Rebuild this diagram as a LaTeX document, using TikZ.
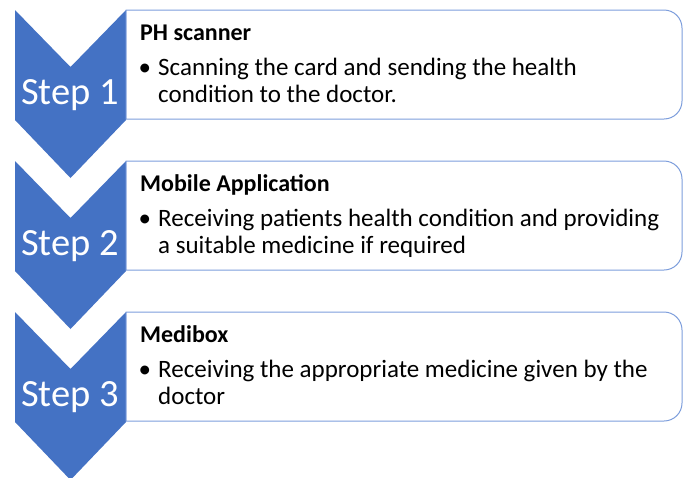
\documentclass[tikz,border=0pt]{standalone}
\usepackage{fontspec}
\setmainfont{Carlito}
\definecolor{chev}{RGB}{68,114,196}
\definecolor{boxline}{RGB}{125,158,220}
\tikzset{
  chevron/.style={fill=chev,draw=none},
  stepbox/.style={draw=boxline,line width=1pt,fill=white},
  steplabel/.style={text=white,font=\fontsize{38.5}{42}\selectfont,anchor=base,inner sep=0pt},
  titletext/.style={font=\fontsize{24}{28}\selectfont\bfseries,anchor=base west,inner sep=0pt},
  bodytext/.style={font=\fontsize{25}{28}\selectfont,anchor=base west,inner sep=0pt},
}
\begin{document}
\begin{tikzpicture}[x=1pt,y=-1pt]
\useasboundingbox (0,0) rectangle (686,477);
\foreach \t/\n/\ti/\la/\lb in {10/1/PH scanner/Scanning the card and sending the health/condition to the doctor.,161/2/Mobile Application/Receiving patients health condition and providing/a suitable medicine if required,312/3/Medibox/Receiving the appropriate medicine given by the/doctor}{
  \fill[chevron] (15,\t) -- (70.5,\t+57) -- (126,\t) -- (126,\t+110) -- (70.5,\t+168) -- (15,\t+110) -- cycle;
  \draw[stepbox] (126,\t) -- (664,\t) arc[start angle=-90,end angle=0,radius=18] -- (682,\t+91) arc[start angle=0,end angle=90,radius=18] -- (126,\t+109) -- cycle;
  \node[steplabel] (s\n) at (70,\t+94) {Step \n};
  \node[titletext] (t\n) at (140,\t+30) {\ti};
  \node[bodytext] (u\n) at (138.5,\t+65) {•};
  \node[bodytext] (a\n) at (158,\t+65) {\la};
  \node[bodytext] (b\n) at (158,\t+92) {\lb};
}
\end{tikzpicture}
\end{document}
